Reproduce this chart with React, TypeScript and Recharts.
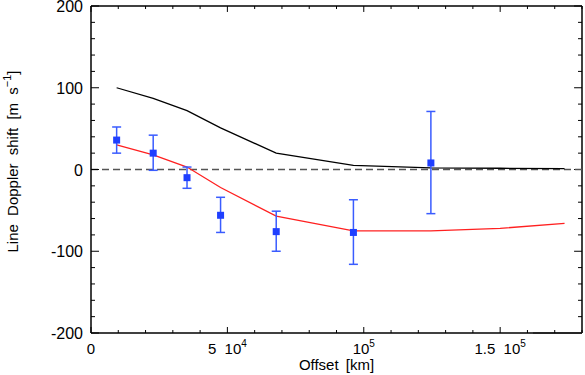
import React from 'react'
import {
  ComposedChart,
  Line,
  Scatter,
  XAxis,
  YAxis,
  ErrorBar,
  ReferenceLine,
} from 'recharts'

// observed points
const offsets = [9400, 22800, 35200, 47500, 67900, 96200, 124600]
const shifts = [36, 20, -10, -56, -76, -77, 8]
const errLow = [16, 21, 13, 21, 24, 39, 62]
const errHigh = [16, 22, 13, 22, 25, 40, 63]

// model curves
const modelOffsets = [9400, 22800, 35200, 47500, 67900, 96200, 124600, 150000, 173600]
const redModel = [30, 18, 3, -22, -57, -75, -75, -72, -66]
const blackModel = [100, 87, 72, 51, 20, 5, 2, 1.5, 1]

const xTicks = [0, 1e4, 2e4, 3e4, 4e4, 5e4, 6e4, 7e4, 8e4, 9e4, 1e5, 1.1e5, 1.2e5, 1.3e5, 1.4e5, 1.5e5, 1.6e5, 1.7e5, 1.8e5]
const yTicks = [-200, -180, -160, -140, -120, -100, -80, -60, -40, -20, 0, 20, 40, 60, 80, 100, 120, 140, 160, 180, 200]

const X_MAX = 1.8e5
const Y_MIN = -200
const Y_MAX = 200

const points = offsets.map((o, i) => ({ offset: o, shift: shifts[i], err: [errLow[i], errHigh[i]] }))
const redData = modelOffsets.map((o, i) => ({ offset: o, v: redModel[i] }))
const blackData = modelOffsets.map((o, i) => ({ offset: o, v: blackModel[i] }))

const FONT = 'Liberation Sans, Arial, sans-serif'

function xLabel(v: number) {
  if (v === 0) return <tspan>0</tspan>
  if (v === 5e4) return <><tspan>5  10</tspan><tspan dy={-7} fontSize={10}>4</tspan></>
  if (v === 1e5) return <><tspan>10</tspan><tspan dy={-7} fontSize={10}>5</tspan></>
  if (v === 1.5e5) return <><tspan>1.5  10</tspan><tspan dy={-7} fontSize={10}>5</tspan></>
  return null
}

const BottomTick = (props: any) => {
  const { x, y, payload } = props
  const v = payload.value
  const major = v % 5e4 === 0
  const lbl = xLabel(v)
  return (
    <g>
      <line x1={x} x2={x} y1={y} y2={y - (major ? 6 : 3)} stroke="#000" />
      {lbl && (
        <text x={x} y={y + 21} textAnchor="middle" fontSize={15} fontFamily={FONT} fill="#000" style={{ whiteSpace: 'pre' }}>
          {lbl}
        </text>
      )}
    </g>
  )
}

const LeftTick = (props: any) => {
  const { x, y, payload } = props
  const v = payload.value
  const major = v % 100 === 0
  return (
    <g>
      <line x1={x} x2={x + (major ? 8 : 4)} y1={y} y2={y} stroke="#000" />
      {major && (
        <text x={x - 8} y={y + 6} textAnchor="end" fontSize={16} fontFamily={FONT} fill="#000">
          {v}
        </text>
      )}
    </g>
  )
}

const YTitle = (props: any) => {
  const { viewBox } = props
  const cx = viewBox.x + 18
  const cy = viewBox.y + viewBox.height / 2 - 8
  return (
    <text
      x={cx}
      y={cy}
      transform={`rotate(-90, ${cx}, ${cy})`}
      textAnchor="middle"
      fontSize={15}
      fontFamily={FONT}
      fill="#000"
      style={{ wordSpacing: 4 }}
    >
      Line Doppler shift [m s<tspan dy={-7} fontSize={11}>−1</tspan><tspan dy={7}>]</tspan>
    </text>
  )
}

const XTitle = (props: any) => {
  const { viewBox } = props
  const cx = viewBox.x + viewBox.width / 2
  return (
    <text x={cx} y={viewBox.y + 37} textAnchor="middle" fontSize={15} fontFamily={FONT} fill="#000" style={{ wordSpacing: 3 }}>
      Offset [km]
    </text>
  )
}

const Square = (props: any) => {
  const { cx, cy } = props
  return <rect x={cx - 3.5} y={cy - 3.5} width={7} height={7} fill="#1f3fff" />
}

export default function App() {
  return (
    <div style={{ position: 'absolute', left: 0, top: 0, background: '#fff' }}>
      <ComposedChart width={585} height={375} margin={{ top: 6, right: 3, bottom: 0, left: 0 }}>
        <XAxis
          dataKey="offset"
          type="number"
          domain={[0, X_MAX]}
          ticks={xTicks}
          allowDataOverflow
          height={42}
          tickSize={0}
          tickMargin={0}
          tickLine={false}
          tick={<BottomTick />}
          axisLine={{ stroke: '#000', strokeWidth: 1.5 }}
          interval={0}
          label={{ content: <XTitle /> }}
        />
        <YAxis
          type="number"
          domain={[Y_MIN, Y_MAX]}
          ticks={yTicks}
          allowDataOverflow
          width={91}
          tickSize={0}
          tickMargin={0}
          tickLine={false}
          tick={<LeftTick />}
          axisLine={{ stroke: '#000', strokeWidth: 1.5 }}
          interval={0}
          label={{ content: <YTitle /> }}
        />
        {/* top and right frame */}
        <ReferenceLine y={Y_MAX} stroke="#000" strokeWidth={1.5} />
        <ReferenceLine x={X_MAX} stroke="#000" strokeWidth={1.5} />
        {xTicks.map((t) => (
          <ReferenceLine
            key={'tx' + t}
            segment={[{ x: t, y: Y_MAX }, { x: t, y: Y_MAX - (t % 5e4 === 0 ? 7.3 : 3.7) }]}
            stroke="#000"
          />
        ))}
        {yTicks.map((t) => (
          <ReferenceLine
            key={'ry' + t}
            segment={[{ x: X_MAX, y: t }, { x: X_MAX - (t % 100 === 0 ? 2900 : 1460), y: t }]}
            stroke="#000"
          />
        ))}
        <ReferenceLine y={0} stroke="#555" strokeWidth={1.5} strokeDasharray="7 4" />
        <ReferenceLine
          segment={[{ x: 1.62e5, y: Y_MIN }, { x: X_MAX, y: Y_MIN }]}
          stroke="#999"
          strokeWidth={2}
        />
        <Line
          data={blackData}
          dataKey="v"
          type="linear"
          stroke="#000"
          strokeWidth={1.3}
          dot={false}
          isAnimationActive={false}
        />
        <Line
          data={redData}
          dataKey="v"
          type="linear"
          stroke="#ff2020"
          strokeWidth={1.3}
          dot={false}
          isAnimationActive={false}
        />
        <Scatter data={points} dataKey="shift" shape={<Square />} isAnimationActive={false}>
          <ErrorBar dataKey="err" direction="y" width={4.5} stroke="#3a5cff" strokeWidth={1.5} />
        </Scatter>
      </ComposedChart>
    </div>
  )
}
